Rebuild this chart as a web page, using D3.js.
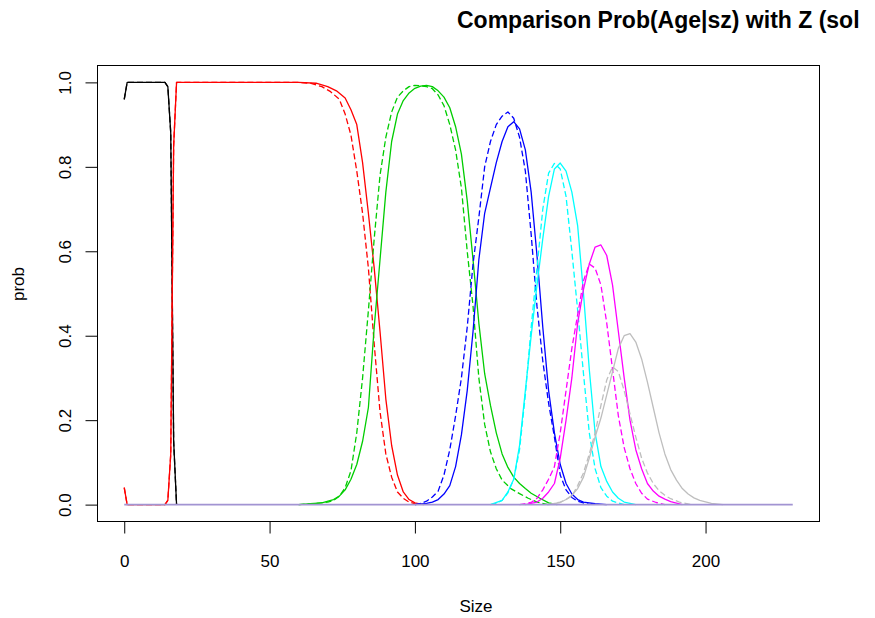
<!DOCTYPE html>
<html>
<head>
<meta charset="utf-8">
<script src="https://cdn.jsdelivr.net/npm/d3@7"></script>
<style>
  html, body { margin: 0; padding: 0; background: #ffffff; }
  svg { display: block; font-family: "Liberation Sans", Arial, sans-serif; }
</style>
</head>
<body>
<svg id="chart" width="875" height="618"></svg>
<script>
// ---- Data ----
const xTicks = [0, 50, 100, 150, 200];
const yTicks = [0, 0.2, 0.4, 0.6, 0.8, 1.0];
const yTickLabels = ["0.0", "0.2", "0.4", "0.6", "0.8", "1.0"];

// Age 0 (black)
const sizeAge0 = [0, 1, 14, 15, 16, 17, 18];
const probAge0Z = [0.96, 1.0, 1.0, 0.99, 0.88, 0.15, 0];
const probAge0Est = [0.96, 1.0, 1.0, 0.99, 0.88, 0.15, 0];

// Age 1 (red)
const sizeAge1Z = [0, 1, 14, 15, 16, 17, 18, 60, 66, 70, 73, 76, 78, 80, 82, 84, 86, 88, 90, 92, 94, 96, 98, 100, 103];
const probAge1Z = [0.04, 0, 0, 0.01, 0.12, 0.85, 1.0, 1.0, 0.998, 0.99, 0.98, 0.963, 0.935, 0.90, 0.81, 0.69, 0.56, 0.41, 0.25, 0.14, 0.07, 0.03, 0.012, 0.004, 0];
const sizeAge1Est = [0, 1, 14, 15, 16, 17, 18, 60, 64, 68, 71, 74, 76, 78, 80, 82, 84, 86, 88, 90, 92, 94, 96, 98, 101];
const probAge1Est = [0.04, 0, 0, 0.01, 0.12, 0.85, 1.0, 1.0, 0.998, 0.99, 0.978, 0.96, 0.925, 0.875, 0.79, 0.69, 0.56, 0.38, 0.22, 0.12, 0.065, 0.03, 0.015, 0.006, 0];

// Age 2 (green)
const sizeAge2Z = [60, 64, 68, 72, 74, 76, 78, 80, 82, 84, 86, 88, 90, 92, 94, 96, 98, 100, 102, 104, 106, 108, 110, 112, 114, 116, 118, 120, 122, 124, 126, 128, 130, 132, 134, 136, 138, 140, 143, 146, 149];
const probAge2Z = [0, 0.002, 0.004, 0.012, 0.02, 0.035, 0.06, 0.095, 0.15, 0.23, 0.42, 0.58, 0.74, 0.86, 0.925, 0.957, 0.975, 0.986, 0.991, 0.993, 0.99, 0.98, 0.965, 0.94, 0.895, 0.83, 0.72, 0.58, 0.43, 0.31, 0.235, 0.17, 0.12, 0.088, 0.065, 0.05, 0.038, 0.027, 0.015, 0.004, 0];
const sizeAge2Est = [60, 66, 70, 72, 74, 76, 78, 80, 82, 84, 86, 88, 90, 92, 94, 96, 98, 100, 102, 104, 106, 108, 110, 112, 114, 116, 118, 120, 122, 124, 126, 128, 130, 133, 136, 139, 142, 146];
const probAge2Est = [0, 0.003, 0.006, 0.01, 0.02, 0.04, 0.08, 0.17, 0.30, 0.46, 0.63, 0.78, 0.87, 0.93, 0.965, 0.98, 0.99, 0.993, 0.992, 0.99, 0.985, 0.97, 0.945, 0.90, 0.84, 0.75, 0.60, 0.47, 0.30, 0.19, 0.125, 0.085, 0.058, 0.038, 0.026, 0.015, 0.006, 0];

// Age 3 (blue)
const sizeAge3Z = [100, 104, 106, 108, 110, 112, 114, 116, 118, 120, 122, 124, 126, 128, 130, 132, 134, 136, 138, 140, 142, 144, 146, 148, 150, 152, 154, 156, 158, 162, 166];
const probAge3Z = [0, 0.003, 0.006, 0.012, 0.025, 0.045, 0.09, 0.165, 0.27, 0.41, 0.58, 0.69, 0.75, 0.81, 0.86, 0.895, 0.907, 0.89, 0.84, 0.74, 0.59, 0.42, 0.27, 0.17, 0.095, 0.05, 0.025, 0.012, 0.006, 0.002, 0];
const sizeAge3Est = [100, 102, 104, 106, 108, 110, 112, 114, 116, 118, 120, 122, 124, 126, 128, 130, 132, 134, 136, 138, 140, 142, 144, 146, 148, 150, 152, 154, 156, 160];
const probAge3Est = [0, 0.003, 0.008, 0.018, 0.032, 0.07, 0.13, 0.21, 0.30, 0.42, 0.57, 0.68, 0.80, 0.86, 0.90, 0.92, 0.93, 0.915, 0.87, 0.79, 0.64, 0.47, 0.34, 0.24, 0.16, 0.07, 0.035, 0.017, 0.008, 0];

// Age 4 (cyan)
const sizeAge4Z = [126, 130, 132, 134, 136, 138, 140, 142, 144, 146, 148, 150, 152, 154, 156, 158, 160, 162, 164, 166, 168, 170, 172, 176];
const probAge4Z = [0, 0.01, 0.03, 0.06, 0.14, 0.27, 0.40, 0.52, 0.63, 0.73, 0.795, 0.809, 0.79, 0.74, 0.66, 0.50, 0.32, 0.17, 0.09, 0.055, 0.03, 0.015, 0.006, 0];
const sizeAge4Est = [126, 128, 130, 132, 134, 136, 138, 140, 142, 144, 146, 148, 150, 152, 154, 156, 158, 160, 162, 164, 166, 168, 172];
const probAge4Est = [0, 0.003, 0.01, 0.028, 0.06, 0.13, 0.26, 0.42, 0.56, 0.70, 0.785, 0.808, 0.795, 0.73, 0.60, 0.46, 0.31, 0.17, 0.085, 0.04, 0.02, 0.008, 0];

// Age 5 (magenta)
const sizeAge5Z = [138, 142, 144, 146, 148, 150, 152, 154, 156, 158, 160, 162, 164, 166, 168, 170, 172, 174, 176, 178, 180, 182, 184, 186, 188, 192];
const probAge5Z = [0, 0.006, 0.015, 0.03, 0.05, 0.11, 0.20, 0.30, 0.43, 0.51, 0.57, 0.61, 0.615, 0.59, 0.52, 0.41, 0.30, 0.20, 0.13, 0.085, 0.05, 0.032, 0.02, 0.013, 0.007, 0];
const sizeAge5Est = [136, 140, 142, 144, 146, 148, 150, 152, 154, 156, 158, 160, 162, 164, 166, 168, 170, 172, 174, 176, 178, 180, 183, 186];
const probAge5Est = [0, 0.005, 0.015, 0.035, 0.06, 0.09, 0.17, 0.27, 0.37, 0.45, 0.53, 0.57, 0.56, 0.52, 0.43, 0.32, 0.21, 0.135, 0.085, 0.05, 0.027, 0.013, 0.005, 0];

// Age 6 (gray)
const sizeAge6Z = [146, 150, 152, 154, 156, 158, 160, 162, 164, 166, 168, 170, 172, 174, 176, 178, 180, 182, 184, 186, 188, 190, 192, 194, 196, 198, 202, 206];
const probAge6Z = [0, 0.005, 0.012, 0.022, 0.038, 0.065, 0.11, 0.16, 0.205, 0.26, 0.315, 0.37, 0.40, 0.405, 0.385, 0.345, 0.29, 0.23, 0.17, 0.12, 0.083, 0.058, 0.038, 0.025, 0.016, 0.01, 0.003, 0];
const sizeAge6Est = [146, 150, 152, 154, 156, 158, 160, 162, 164, 166, 168, 170, 172, 174, 176, 178, 180, 182, 184, 186, 188, 191, 195];
const probAge6Est = [0, 0.006, 0.012, 0.02, 0.045, 0.075, 0.12, 0.17, 0.235, 0.295, 0.326, 0.315, 0.27, 0.215, 0.16, 0.11, 0.075, 0.05, 0.033, 0.022, 0.014, 0.006, 0];

// Remaining ages: zero over the whole size range
const sizeOther = [0, 230];
const probOther = [0, 0];

// Series table built from the arrays above
const series = [
  { sizes: sizeAge0, probs: probAge0Z, color: "#000000", dash: null },
  { sizes: sizeAge0, probs: probAge0Est, color: "#000000", dash: "6,3" },
  { sizes: sizeAge1Z, probs: probAge1Z, color: "#ff0000", dash: null },
  { sizes: sizeAge1Est, probs: probAge1Est, color: "#ff0000", dash: "6,3" },
  { sizes: sizeAge2Z, probs: probAge2Z, color: "#00cd00", dash: null },
  { sizes: sizeAge2Est, probs: probAge2Est, color: "#00cd00", dash: "6,3" },
  { sizes: sizeAge3Z, probs: probAge3Z, color: "#0000ff", dash: null },
  { sizes: sizeAge3Est, probs: probAge3Est, color: "#0000ff", dash: "6,3" },
  { sizes: sizeAge4Z, probs: probAge4Z, color: "#00ffff", dash: null },
  { sizes: sizeAge4Est, probs: probAge4Est, color: "#00ffff", dash: "6,3" },
  { sizes: sizeAge5Z, probs: probAge5Z, color: "#ff00ff", dash: null },
  { sizes: sizeAge5Est, probs: probAge5Est, color: "#ff00ff", dash: "6,3" },
  { sizes: sizeAge6Z, probs: probAge6Z, color: "#bebebe", dash: null },
  { sizes: sizeAge6Est, probs: probAge6Est, color: "#bebebe", dash: "6,3" },
  { sizes: sizeOther, probs: probOther, color: "#a294d2", dash: null }
];

// ---- Drawing ----
const svg = d3.select("#chart");
const plotL = 97.5, plotR = 819.5, plotT = 65.5, plotB = 521.5;

const x = d3.scaleLinear().domain([-9.2, 239.2]).range([plotL, plotR]);
const y = d3.scaleLinear().domain([-0.04, 1.04]).range([plotB, plotT]);

// Lines
const line = d3.line()
  .x(d => x(d[0]))
  .y(d => y(d[1]));

svg.append("g").selectAll("path")
  .data(series)
  .join("path")
  .attr("d", s => line(s.sizes.map((v, i) => [v, s.probs[i]])))
  .attr("fill", "none")
  .attr("stroke", s => s.color)
  .attr("stroke-width", s => s.sizes === sizeOther ? 1.8 : 1.3)
  .attr("stroke-dasharray", s => s.dash)
  .attr("stroke-linejoin", "round");

// Box
svg.append("rect")
  .attr("x", plotL).attr("y", plotT)
  .attr("width", plotR - plotL).attr("height", plotB - plotT)
  .attr("fill", "none").attr("stroke", "#000").attr("stroke-width", 1);

// X axis
const xAxis = svg.append("g")
  .attr("transform", `translate(0,${plotB})`)
  .call(d3.axisBottom(x).tickValues(xTicks).tickSize(12).tickFormat(d3.format("d")));
xAxis.select(".domain").remove();
xAxis.selectAll("line").attr("stroke", "#000");
xAxis.selectAll("text")
  .attr("font-size", 17).attr("font-family", "Liberation Sans, Arial, sans-serif")
  .attr("fill", "#000").attr("y", 45).attr("dy", null);

// Y axis
const yAxis = svg.append("g")
  .attr("transform", `translate(${plotL},0)`)
  .call(d3.axisLeft(y).tickValues(yTicks).tickSize(12).tickFormat((d, i) => yTickLabels[i]));
yAxis.select(".domain").remove();
yAxis.selectAll("line").attr("stroke", "#000");
yAxis.selectAll("text")
  .attr("font-size", 17).attr("font-family", "Liberation Sans, Arial, sans-serif")
  .attr("fill", "#000")
  .attr("text-anchor", "middle")
  .attr("x", null).attr("dy", null)
  .attr("transform", `translate(${71 - plotL},0) rotate(-90)`)
  .attr("y", 0);

// Axis titles
svg.append("text")
  .attr("x", 476).attr("y", 612)
  .attr("text-anchor", "middle")
  .attr("font-size", 17)
  .text("Size");

svg.append("text")
  .attr("transform", `translate(24,284) rotate(-90)`)
  .attr("text-anchor", "middle")
  .attr("font-size", 17)
  .text("prob");

// Title
svg.append("text")
  .attr("x", 457).attr("y", 28)
  .attr("font-size", 23)
  .attr("font-weight", "bold")
  .text("Comparison Prob(Age|sz) with Z (sol");
</script>
</body>
</html>
